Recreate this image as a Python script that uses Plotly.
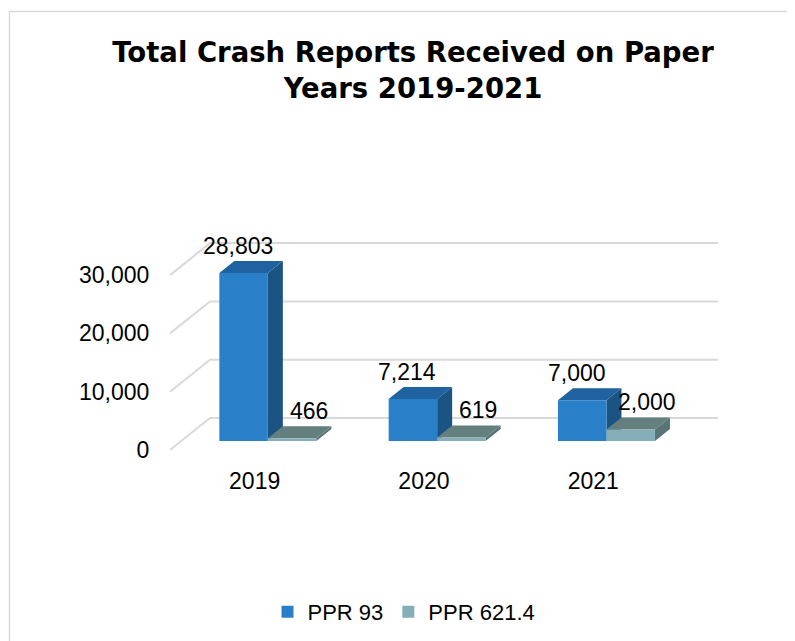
import plotly.graph_objects as go

# ---------------- data ----------------
years = ["2019", "2020", "2021"]
ppr93 = [28803, 7214, 7000]
ppr621 = [466, 619, 2000]
series_names = ["PPR 93", "PPR 621.4"]
y_ticks = [0, 10000, 20000, 30000]

# ---------------- geometry (pixel layout of the 3D projection) ----------------
W, H = 795, 641
OFF = 8                                  # page body margin in the browser

def fx(px):                              # screen px -> figure px
    return px - OFF

L, R, T, B = fx(170), fx(718), fx(220), fx(460)   # plot area in figure px
ZERO_PX = fx(450)                        # front-plane zero line
PX_PER_CAT = 169.3
PX_PER_Y = 58.3 / 10000

x_min = -0.5
x_max = x_min + (R - L) / PX_PER_CAT
y_min = -(B - ZERO_PX) / PX_PER_Y
y_max = (ZERO_PX - T) / PX_PER_Y

DX = 40 / PX_PER_CAT                     # depth shift, x units
DY = 32 / PX_PER_Y                       # depth shift, y units
D0, D1 = 0.28, 0.655                     # bar front / back depth fraction
BW = 48.5 / PX_PER_CAT                   # bar width in category units
XNUDGE = 2 / PX_PER_CAT

FONT = "Liberation Sans, Arial, sans-serif"

styles = [
    dict(front="#2A80C8", top="#1F62A0", side="#1B5382", xshift=-13),
    dict(front="#86AEB8", top="#63807F", side="#587475", xshift=9),
]
values = [ppr93, ppr621]

def px_to_paper_x(px):
    return (px - L) / (R - L)

def px_to_paper_y(py):
    return (B - py) / (B - T)

fig = go.Figure()
shapes = []
annotations = []

# 3D gridlines (front diagonal + back wall)
for v in y_ticks:
    shapes.append(dict(
        type="path", xref="x", yref="y", layer="below",
        path=f"M {x_min},{v} L {x_min + DX},{v + DY} L {x_max},{v + DY}",
        line=dict(color="#D9D9D9", width=2),
    ))

ddx = (D1 - D0) * DX
ddy = (D1 - D0) * DY
b0 = D0 * DY

for k, (name, vals, st) in enumerate(zip(series_names, values, styles)):
    xs = []
    for i, v in enumerate(vals):
        xl = i + (k - 1) * BW + D0 * DX + XNUDGE
        xr = xl + BW
        xs.append(xl + BW / 2)
        top = v + b0
        shapes.append(dict(
            type="path", xref="x", yref="y", layer="below",
            path=f"M {xl},{top} L {xr},{top} L {xr + ddx},{top + ddy} L {xl + ddx},{top + ddy} Z",
            fillcolor=st["top"], line=dict(width=0),
        ))
        shapes.append(dict(
            type="path", xref="x", yref="y", layer="below",
            path=f"M {xr},{b0} L {xr},{top} L {xr + ddx},{top + ddy} L {xr + ddx},{b0 + ddy} Z",
            fillcolor=st["side"], line=dict(width=0),
        ))
        annotations.append(dict(
            x=xl + BW / 2 + ddx / 2, y=v + D1 * DY, xref="x", yref="y",
            text=f"{v:,}", showarrow=False, xanchor="center", yanchor="bottom",
            xshift=st["xshift"], yshift=0,
            font=dict(family=FONT, size=23, color="#000000"),
        ))
    fig.add_trace(go.Bar(
        x=xs, y=vals, base=[b0] * len(vals), width=BW, name=name,
        marker=dict(color=st["front"], line=dict(width=0)),
        hoverinfo="skip",
    ))

# chart border
shapes.append(dict(
    type="rect", xref="paper", yref="paper", layer="below",
    x0=px_to_paper_x(fx(9.5)), x1=px_to_paper_x(fx(793)),
    y0=px_to_paper_y(fx(670)), y1=px_to_paper_y(fx(11.5)),
    line=dict(color="#D9D9D9", width=1.5), fillcolor="rgba(0,0,0,0)",
))

fig.update_layout(
    width=W, height=H,
    margin=dict(l=L, r=W - R, t=T, b=H - B, pad=0),
    paper_bgcolor="white", plot_bgcolor="white",
    barmode="overlay",
    title=dict(
        text="<b>Total Crash Reports Received on Paper<br>Years 2019-2021</b>",
        x=fx(413) / W, xref="container", xanchor="center",
        y=1 - fx(62) / H, yref="container", yanchor="top",
        font=dict(family="DejaVu Sans, sans-serif", size=27.5, color="#000000"),
    ),
    xaxis=dict(
        range=[x_min, x_max], tickvals=[0, 1, 2], ticktext=years,
        showgrid=False, zeroline=False, showline=False,
        ticks="outside", ticklen=0, tickcolor="rgba(0,0,0,0)",
        tickfont=dict(family=FONT, size=23, color="#000000"),
        fixedrange=True,
    ),
    yaxis=dict(
        range=[y_min, y_max], tickvals=y_ticks, tickformat=",",
        showgrid=False, zeroline=False, showline=False,
        ticks="outside", ticklen=15, tickcolor="rgba(0,0,0,0)",
        tickfont=dict(family=FONT, size=23, color="#000000"),
        fixedrange=True,
    ),
    legend=dict(
        orientation="h", x=px_to_paper_x(fx(404)), xanchor="center",
        y=px_to_paper_y(fx(612)), yanchor="middle",
        font=dict(family=FONT, size=22, color="#000000"),
        traceorder="normal",
    ),
    shapes=shapes,
    annotations=annotations,
    showlegend=True,
)

fig.write_html("out.html")
